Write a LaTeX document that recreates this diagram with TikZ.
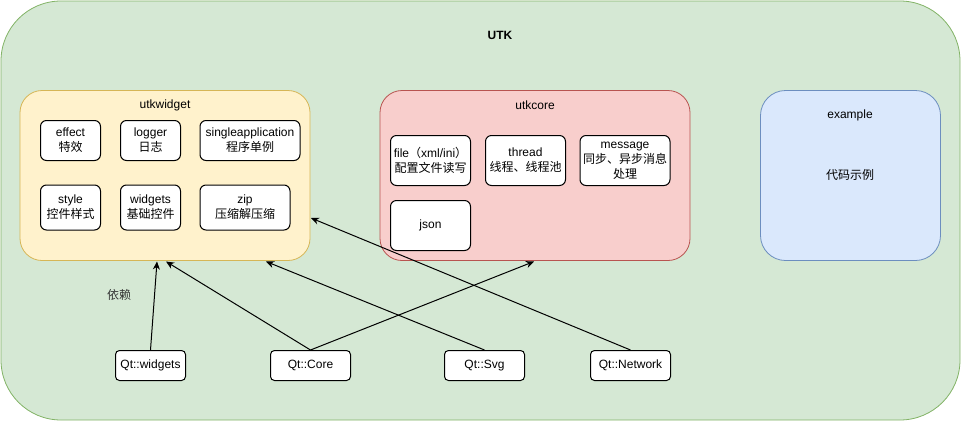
\documentclass[tikz,border=0pt]{standalone}
\usepackage{fontspec}
\setmainfont{Liberation Sans}
\newfontfamily\cjk{Noto Sans CJK SC}
\usetikzlibrary{arrows.meta}
\definecolor{gfill}{HTML}{D5E8D4}
\definecolor{gline}{HTML}{82B366}
\definecolor{yfill}{HTML}{FFF2CC}
\definecolor{yline}{HTML}{D6B656}
\definecolor{rfill}{HTML}{F8CECC}
\definecolor{rline}{HTML}{B85450}
\definecolor{bfill}{HTML}{DAE8FC}
\definecolor{bline}{HTML}{6C8EBF}
\begin{document}
\begin{tikzpicture}[x=1pt,y=-1pt,
  txt/.style={font=\fontsize{12}{15}\selectfont, inner sep=0pt, align=center},
  leaf/.style={txt, draw=black, fill=white, rounded corners=6pt, line width=1pt},
  group/.style={draw, line width=0.8pt, inner sep=0pt},
  arr/.style={line width=1pt, -{Stealth[length=8pt,width=7pt,inset=2.5pt]}}]
\useasboundingbox (0,0) rectangle (961,421);
% outer container
\node[group, draw=gline, fill=gfill, rounded corners=60pt, minimum width=959pt, minimum height=419pt] (utk) at (480.5,210.5) {};
\node[txt, font=\fontsize{12}{15}\selectfont\bfseries] (utklabel) at (500,35) {UTK};
% utkwidget
\node[group, draw=yline, fill=yfill, rounded corners=22pt, minimum width=290pt, minimum height=170pt] (utkwidget) at (165,175.5) {};
\node[txt] (utkwidgetlabel) at (165,105) {utkwidget};
\node[leaf, minimum width=60pt, minimum height=40pt] (effect) at (70.5,140.5) {effect\\{\cjk 特效}};
\node[leaf, minimum width=60pt, minimum height=40pt] (logger) at (150.5,140.5) {logger\\{\cjk 日志}};
\node[leaf, minimum width=100pt, minimum height=40pt] (single) at (250,140.5) {singleapplication\\{\cjk 程序单例}};
\node[leaf, minimum width=60pt, minimum height=45pt] (style) at (70.5,207.5) {style\\{\cjk 控件样式}};
\node[leaf, minimum width=60pt, minimum height=45pt] (widgets) at (150.5,207.5) {widgets\\{\cjk 基础控件}};
\node[leaf, minimum width=90pt, minimum height=45pt] (zip) at (245,207.5) {zip\\{\cjk 压缩解压缩}};
% utkcore
\node[group, draw=rline, fill=rfill, rounded corners=22pt, minimum width=310pt, minimum height=170pt] (utkcore) at (535,175.5) {};
\node[txt] (utkcorelabel) at (535,105) {utkcore};
\node[leaf, minimum width=80pt, minimum height=50pt] (file) at (430.5,160.5) {file{\cjk （}xml/ini{\cjk ）}\\{\cjk 配置文件读写}};
\node[leaf, minimum width=80pt, minimum height=50pt] (thread) at (525.5,160.5) {thread\\{\cjk 线程、线程池}};
\node[leaf, minimum width=90pt, minimum height=50pt] (message) at (625,160.5) {message\\{\cjk 同步、异步消息}\\{\cjk 处理}};
\node[leaf, minimum width=80pt, minimum height=50pt] (json) at (430.5,225.5) {json};
% example
\node[group, draw=bline, fill=bfill, rounded corners=25pt, minimum width=180pt, minimum height=170pt] (example) at (850.5,175.5) {};
\node[txt] (examplelabel) at (850,115) {example};
\node[txt] (exampletext) at (850,175) {\cjk 代码示例};
% Qt modules
\node[leaf, rounded corners=4pt, minimum width=70pt, minimum height=30pt] (qtw) at (150.5,365.5) {Qt::widgets};
\node[leaf, rounded corners=4pt, minimum width=80pt, minimum height=30pt] (qtc) at (310.5,365.5) {Qt::Core};
\node[leaf, rounded corners=4pt, minimum width=80pt, minimum height=30pt] (qts) at (484.5,365.5) {Qt::Svg};
\node[leaf, rounded corners=4pt, minimum width=80pt, minimum height=30pt] (qtn) at (630.5,365.5) {Qt::Network};
% arrow targets
\coordinate (t1) at (157,261.5);
\coordinate (t2) at (166,261.5);
\coordinate (t3) at (534,261.5);
\coordinate (t4) at (266,261.5);
\coordinate (t5) at (311,218);
\draw[arr] (qtw.north) -- (t1);
\draw[arr] (qtc.north) -- (t2);
\draw[arr] (qtc.north) -- (t3);
\draw[arr] (qts.north) -- (t4);
\draw[arr] (qtn.north) -- (t5);
\node[txt, text=black!80] (dep) at (119,295) {\cjk 依赖};
\end{tikzpicture}
\end{document}
